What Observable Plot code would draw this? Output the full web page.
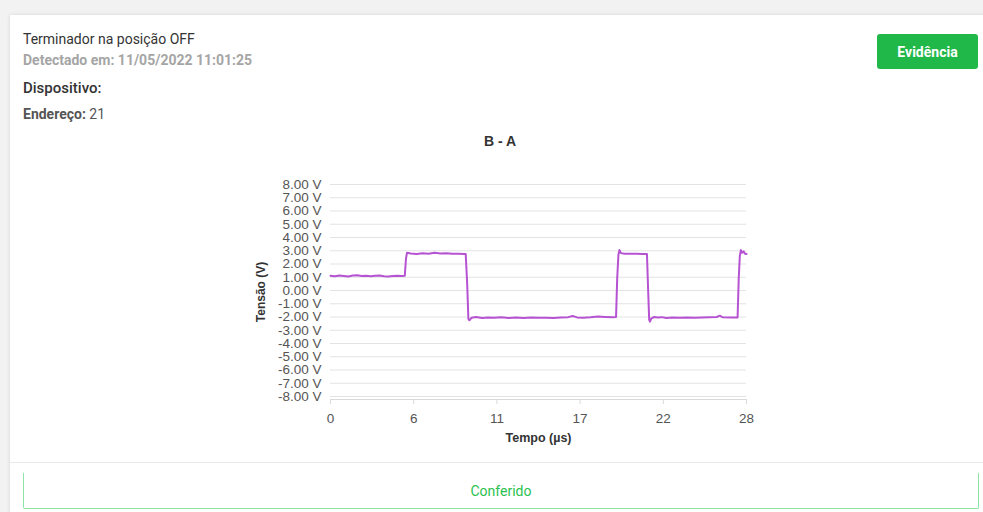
<!DOCTYPE html>
<html>
<head>
<meta charset="utf-8">
<script src="https://cdn.jsdelivr.net/npm/d3@7"></script>
<script src="https://cdn.jsdelivr.net/npm/@observablehq/plot@0.6"></script>
<style>
  html, body { margin: 0; padding: 0; }
  body { width: 983px; height: 512px; background: #f2f2f2; position: relative; overflow: hidden; font-family: Roboto, "Noto Sans", sans-serif; }
  .card { position: absolute; left: 10px; top: 15px; width: 990px; height: 520px; background: #fff; box-shadow: 0 0 4px rgba(0,0,0,0.12); }
  .t1 { position: absolute; left: 23px; top: 31px; font-size: 14px; color: #333; }
  .t2 { position: absolute; left: 23px; top: 52px; font-size: 14px; color: #a5a5a5; font-weight: bold; }
  .t3 { position: absolute; left: 23px; top: 79px; font-size: 15px; color: #333; font-weight: 500; }
  .t4 { position: absolute; left: 23px; top: 106px; font-size: 14px; color: #555; }
  .t4 b { font-weight: bold; }
  .btn { position: absolute; left: 877px; top: 34px; width: 101px; height: 35px; background: #21b84a; color: #fff; border-radius: 3px; font-size: 14px; font-weight: bold; display: flex; align-items: center; justify-content: center; }
  .title { position: absolute; left: 400px; width: 200px; top: 133px; text-align: center; font-family: "Liberation Sans", Arial, sans-serif; font-weight: bold; font-size: 14px; color: #333; }
  .divider { position: absolute; left: 10px; right: 0; top: 462px; height: 1px; background: #e9e9e9; }
  .conf { position: absolute; left: 23px; top: 472px; width: 954px; height: 35px; border: 1px solid #8ee4a6; border-top-color: #fff; border-radius: 2px; color: #2bc24f; font-size: 14px; display: flex; align-items: center; justify-content: center; }
  #chart { position: absolute; left: 0; top: 150px; }
</style>
</head>
<body>
<div class="card"></div>
<div class="t1">Terminador na posição OFF</div>
<div class="t2">Detectado em: 11/05/2022 11:01:25</div>
<div class="t3">Dispositivo:</div>
<div class="t4"><b>Endereço:</b> 21</div>
<div class="btn">Evidência</div>
<div class="title">B - A</div>
<div id="chart"></div>
<div class="divider"></div>
<div class="conf">Conferido</div>
<script>
const times = [0, 0.3, 0.6, 0.9, 1.2, 1.5, 1.8, 2.1, 2.4, 2.7, 3.0, 3.3, 3.6, 3.9, 4.2, 4.5, 4.8, 5.0,
  5.08, 5.15,
  5.4, 5.8, 6.2, 6.6, 7.0, 7.4, 7.8, 8.2, 8.6, 9.0, 9.1,
  9.2, 9.28, 9.35, 9.5,
  9.8, 10.2, 10.6, 11.0, 11.5, 12.0, 12.5, 13.0, 13.5, 14.0, 14.5, 15.0, 15.5, 16.0, 16.3, 16.6, 17.0, 17.5, 18.0, 18.5, 19.0, 19.22,
  19.3, 19.38, 19.45, 19.55, 19.8,
  20.2, 20.6, 21.0, 21.3,
  21.38, 21.45, 21.5, 21.6, 21.8,
  22.0, 22.3, 22.6, 23.0, 23.5, 24.0, 24.5, 25.0, 25.5, 26.0, 26.2, 26.4, 27.0, 27.4,
  27.48, 27.55, 27.62, 27.7, 27.8, 27.9, 28.0];
const volts = [1.12, 1.08, 1.14, 1.10, 1.06, 1.13, 1.15, 1.09, 1.12, 1.07, 1.11, 1.14, 1.08, 1.05, 1.10, 1.12, 1.09, 1.11,
  2.4, 2.85,
  2.80, 2.76, 2.82, 2.78, 2.85, 2.79, 2.81, 2.77, 2.78, 2.76, 2.75,
  0.5, -2.15, -2.25, -2.05,
  -2.0, -2.08, -2.03, -2.06, -2.02, -2.07, -2.04, -2.08, -2.03, -2.06, -2.05, -2.07, -2.04, -2.01, -1.93, -2.03, -2.05, -2.02, -1.97, -2.0, -2.02, -2.0,
  1.0, 2.7, 3.05, 2.82, 2.78,
  2.77, 2.78, 2.76, 2.75,
  0.0, -2.2, -2.35, -2.1, -2.0,
  -2.03, -2.01, -2.08, -2.04, -2.06, -2.03, -2.05, -2.04, -2.02, -2.0, -1.9, -2.02, -2.04, -2.03,
  1.0, 2.6, 3.05, 2.85, 2.95, 2.78, 2.75];
const xTicks = [0, 5.6, 11.2, 16.8, 22.4, 28];
const yTicks = [-8, -7, -6, -5, -4, -3, -2, -1, 0, 1, 2, 3, 4, 5, 6, 7, 8];

const data = times.map((t, i) => ({t, v: volts[i]}));

const chart = Plot.plot({
  width: 983,
  height: 300,
  marginLeft: 330,
  marginRight: 237,
  marginTop: 34,
  marginBottom: 51,
  style: {fontFamily: "'Liberation Sans', Arial, sans-serif", fontSize: "13.5px", color: "#555", background: "transparent"},
  x: {domain: [0, 28]},
  y: {domain: [-8, 8], insetBottom: 3},
  marks: [
    Plot.gridY(yTicks, {stroke: "#e3e3e3", strokeOpacity: 1}),
    Plot.frame({anchor: "bottom", stroke: "#d9d9d9"}),
    Plot.axisY(yTicks, {tickSize: 0, tickPadding: 9, tickFormat: d => d.toFixed(2) + " V", label: null, fill: "#555"}),
    Plot.axisX(xTicks, {tickSize: 5, tickPadding: 9, tickFormat: d => String(Math.round(d)), label: null, stroke: "#d9d9d9", fill: "#555"}),
    Plot.lineY(data, {x: "t", y: "v", stroke: "#b653d2", strokeWidth: 2, curve: "linear"}),
    Plot.text(["Tensão (V)"], {frameAnchor: "left", textAnchor: "middle", dx: -69, rotate: -90, fontWeight: "bold", fontSize: 12, fill: "#333"}),
    Plot.text(["Tempo (µs)"], {frameAnchor: "bottom", textAnchor: "middle", dy: 42, fontWeight: "bold", fontSize: 12.5, fill: "#333"})
  ]
});
document.getElementById("chart").appendChild(chart);
</script>
</body>
</html>
